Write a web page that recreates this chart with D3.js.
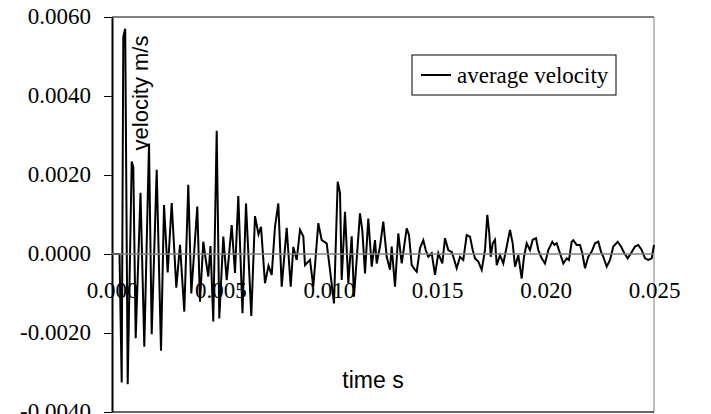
<!DOCTYPE html>
<html>
<head>
<meta charset="utf-8">
<script src="https://cdn.jsdelivr.net/npm/d3@7"></script>
<style>
  body { margin: 0; background: #fff; }
  svg { display: block; }
</style>
</head>
<body>
<div id="chart-area"></div>
<script>
var timeS = [
  0, 0.000346, 0.000447, 0.000521, 0.000609, 0.000724, 0.000909, 0.000982, 0.001093, 0.001315,
  0.001490, 0.001707, 0.001831, 0.002062, 0.002260, 0.002399, 0.002569, 0.002754, 0.002966, 0.003137,
  0.003335, 0.003519, 0.003658, 0.003934, 0.004059, 0.004211, 0.004313, 0.004442, 0.004543, 0.004672,
  0.004829, 0.004949, 0.005134, 0.005291, 0.005521, 0.005673, 0.005826, 0.006019, 0.006181, 0.006425,
  0.006596, 0.006757, 0.006873, 0.007057, 0.007219, 0.007366, 0.007518, 0.007671, 0.007828, 0.008058,
  0.008243, 0.008363, 0.008519, 0.008672, 0.008824, 0.008902, 0.009133, 0.009285, 0.009516, 0.009673,
  0.009903, 0.010055, 0.010240, 0.010410, 0.010517, 0.010595, 0.010747, 0.010900, 0.011056, 0.011162,
  0.011439, 0.011545, 0.011670, 0.011822, 0.011979, 0.012131, 0.012209, 0.012362, 0.012514, 0.012671,
  0.012823, 0.012901, 0.013054, 0.013206, 0.013363, 0.013593, 0.013699, 0.013824, 0.013976, 0.014055,
  0.014207, 0.014359, 0.014470, 0.014590, 0.014746, 0.014898, 0.015051, 0.015235, 0.015360, 0.015512,
  0.015669, 0.015743, 0.015899, 0.016052, 0.016204, 0.016361, 0.016513, 0.016638, 0.016744, 0.016896,
  0.017053, 0.017205, 0.017311, 0.017403, 0.017468, 0.017560, 0.017666, 0.017745, 0.017897, 0.018049,
  0.018206, 0.018358, 0.018482, 0.018589, 0.018741, 0.018897, 0.019004, 0.019128, 0.019280, 0.019405,
  0.019557, 0.019663, 0.019820, 0.019972, 0.020125, 0.020309, 0.020402, 0.020512, 0.020664, 0.020817,
  0.020973, 0.021079, 0.021204, 0.021278, 0.021434, 0.021587, 0.021693, 0.021817, 0.021970, 0.022126,
  0.022279, 0.022431, 0.022555, 0.022662, 0.022818, 0.022970, 0.023123, 0.023326, 0.023478, 0.023630,
  0.023787, 0.023939, 0.024124, 0.024276, 0.024433, 0.024585, 0.024737, 0.024894, 0.025000
];
var avgVelocity = [
  0, 0, -0.00325, 0.0055, 0.0057, -0.0033, 0.00234, 0.0022, -0.00213, 0.00155,
  -0.00235, 0.0028, -0.00203, 0.00213, -0.00245, 0.00124, -0.00047, 0.00129, -0.00085, 0.00023,
  -0.00146, 0.00175, -0.0010, 0.0012, -0.00121, 0.00031, -0.0001, -0.00057, 0.0002, -0.00171,
  0.00312, -0.00163, 0.00044, -0.00066, 0.00073, -0.00048, 0.00147, -0.0015, 0.00128, -0.00157,
  0.00096, 0.0005, 0.00069, -0.00074, -0.0003, -0.00053, 0.00069, 0.00128, -0.00083, 0.00066,
  -0.00083, 0.00018, -0.00015, 0.00061, 0.00045, -0.00028, -0.00015, -0.00083, 0.00078, 0.00035,
  0.00027, -0.0004, -0.00125, 0.00183, 0.00155, -0.00066, 0.00107, -0.00074, 0.00045, -0.00108,
  0.00103, 0.0006, -0.00049, 0.0009, -0.00032, 0.00035, -0.00024, 0.00019, 0.00082, -0.00007,
  -0.0004, 0.00019, -0.00083, 0.00052, -0.00024, 0.00065, 0.00048, -0.00028, -0.0004, -0.00045,
  0.00015, 0.00035, 0.0001, -0.00007, 0.00002, -0.00053, 0.00002, -0.00024, 0.0004, 0.0001,
  0.00005, -0.00007, -0.00036, -0.00007, -0.00015, 0.00048, 0.00044, 0.0001, -0.00011, -0.00019,
  -0.0004, 0.0001, 0.00099, 0.00052, -0.00007, 0.00027, 0.00036, -0.00028, -0.00003, -0.00024,
  0.00019, 0.00061, 0.00027, -0.00032, -0.00003, -0.00062, -0.00007, 0.00027, 0.0001, 0.00036,
  0.0004, 0.0001, -0.00011, -0.00024, 0.0001, 0.00031, 0.00023, 0.00027, 0.00002, -0.00024,
  -0.00011, -0.00015, 0.00031, 0.00035, 0.00023, 0.00023, 0.00002, -0.00036, -0.00007, 0.00006,
  0.00027, 0.00031, 0.00006, -0.00007, -0.00032, -0.00015, 0.00019, 0.00031, 0.00019, 0.00002,
  -0.00011, 0.00002, 0.00019, 0.00023, 0.0001, -0.00011, -0.00015, -0.00011, 0.00023
];
var xTicks = [0, 0.005, 0.010, 0.015, 0.020, 0.025];
var yTicks = [-0.004, -0.002, 0, 0.002, 0.004, 0.006];
var seriesName = "average velocity";

var W = 711, H = 414;
var plotLeft = 112, plotRight = 654, plotTop = 17, plotBottom = 412;

var svg = d3.select("#chart-area").append("svg")
	.attr("width", W)
	.attr("height", H);

var x = d3.scaleLinear().domain([0, 0.025]).range([plotLeft, plotRight]);
var y = d3.scaleLinear().domain([-0.004, 0.006]).range([plotBottom, plotTop]);

var data = timeS.map((t, i) => { return {t: t, v: avgVelocity[i]}; });

// plot frame
svg.append("line").attr("x1", plotLeft).attr("x2", plotRight).attr("y1", plotTop).attr("y2", plotTop)
	.attr("stroke", "#000").attr("stroke-width", 1);
svg.append("line").attr("x1", plotRight).attr("x2", plotRight).attr("y1", plotTop).attr("y2", plotBottom)
	.attr("stroke", "#808080").attr("stroke-width", 1);
svg.append("line").attr("x1", plotLeft).attr("x2", plotRight).attr("y1", plotBottom).attr("y2", plotBottom)
	.attr("stroke", "#333").attr("stroke-width", 1.5);

// y axis
var leftAxis = d3.axisLeft(y)
	.tickValues(yTicks)
	.tickSizeInner(8)
	.tickSizeOuter(0)
	.tickPadding(13)
	.tickFormat((d) => { return d.toFixed(4); });
var gy = svg.append("g")
	.attr("transform", "translate(" + plotLeft + ",0)")
	.call(leftAxis);
gy.select(".domain").attr("stroke", "#000").attr("stroke-width", 2);
gy.selectAll(".tick line").attr("stroke", "#000");
gy.selectAll("text")
	.attr("font-family", "'Liberation Serif', 'Times New Roman', serif")
	.attr("font-size", "23px")
	.attr("fill", "#000")
	.attr("dy", "0.28em");

// x tick labels sit below the zero line
var bottomAxis = d3.axisBottom(x)
	.tickValues(xTicks)
	.tickSize(0)
	.tickFormat((d) => { return d.toFixed(3); });
var gx = svg.append("g")
	.attr("transform", "translate(0," + y(0) + ")")
	.call(bottomAxis);
gx.select(".domain").remove();
gx.selectAll("text")
	.attr("font-family", "'Liberation Serif', 'Times New Roman', serif")
	.attr("font-size", "23px")
	.attr("fill", "#000")
	.attr("y", 44)
	.attr("dy", 0);

// axis titles
svg.append("text")
	.attr("transform", "translate(148,93) rotate(-90)")
	.attr("text-anchor", "middle")
	.attr("font-family", "'Liberation Sans', Arial, sans-serif")
	.attr("font-size", "22px")
	.text("velocity m/s");
svg.append("text")
	.attr("x", 373)
	.attr("y", 388)
	.attr("text-anchor", "middle")
	.attr("font-family", "'Liberation Sans', Arial, sans-serif")
	.attr("font-size", "23px")
	.text("time s");

// series
var line = d3.line()
	.x((d) => { return x(d.t); })
	.y((d) => { return y(d.v); });
svg.append("path")
	.datum(data)
	.attr("fill", "none")
	.attr("stroke", "#000")
	.attr("stroke-width", 2)
	.attr("d", line);

// zero line over the series
svg.append("line")
	.attr("x1", plotLeft).attr("x2", plotRight)
	.attr("y1", y(0)).attr("y2", y(0))
	.attr("stroke", "#808080").attr("stroke-width", 1.5);

// legend
var lg = svg.append("g");
lg.append("rect")
	.attr("x", 412).attr("y", 55)
	.attr("width", 204).attr("height", 40)
	.attr("fill", "#fff")
	.attr("stroke", "#000").attr("stroke-width", 1);
lg.append("line")
	.attr("x1", 421).attr("x2", 451)
	.attr("y1", 75).attr("y2", 75)
	.attr("stroke", "#000").attr("stroke-width", 2);
lg.append("text")
	.attr("x", 457).attr("y", 83)
	.attr("font-family", "'Liberation Serif', 'Times New Roman', serif")
	.attr("font-size", "23px")
	.text(seriesName);
</script>
</body>
</html>
